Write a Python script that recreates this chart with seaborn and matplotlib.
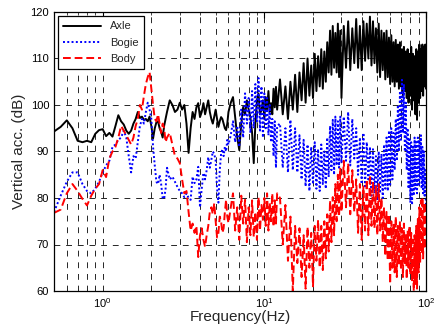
import matplotlib
matplotlib.use("Agg")
import matplotlib.pyplot as plt
import seaborn as sns
import numpy as np
import pandas as pd
from matplotlib.ticker import LogLocator, LogFormatterMathtext, NullFormatter

freq = [
    0.50, 0.55, 0.60, 0.65, 0.70, 0.75, 0.80, 0.85, 0.90, 0.95,
    1.00, 1.05, 1.10, 1.15, 1.20, 1.25, 1.30, 1.35, 1.40, 1.45,
    1.50, 1.55, 1.60, 1.65, 1.70, 1.75, 1.80, 1.85, 1.90, 1.95,
    2.00, 2.05, 2.10, 2.15, 2.20, 2.25, 2.30, 2.35, 2.40, 2.45, 2.50,
    2.6, 2.7, 2.8, 2.9, 3.0, 3.1, 3.2, 3.3, 3.4, 3.5, 3.6, 3.7, 3.8, 3.9,
    4.0, 4.1, 4.2, 4.3, 4.4, 4.5, 4.6, 4.7, 4.8, 4.9, 5.0, 5.1, 5.2, 5.3,
    5.4, 5.5, 5.6, 5.7, 5.8, 5.9, 6.0,
    6.2, 6.4, 6.6, 6.8, 7.0, 7.2, 7.4, 7.6, 7.8, 8.0, 8.2, 8.4, 8.6, 8.8,
    9.0, 9.2, 9.4, 9.6, 9.8, 10.0, 10.2, 10.4, 10.6, 10.8, 11.0, 11.2,
    11.4, 11.6, 11.8, 12.0,
    12.5, 13.0, 13.5, 14.0, 14.5, 15.0, 15.5, 16.0, 16.5, 17.0, 17.5, 18.0,
    18.5, 19.0, 19.5, 20.0, 20.5, 21.0, 21.5, 22.0, 22.5, 23.0, 23.5, 24.0,
    24.5, 25.0, 25.5, 26.0, 26.5, 27.0, 27.5, 28.0, 28.5, 29.0, 29.5, 30.0,
    31, 32, 33, 34, 35, 36, 37, 38, 39, 40, 41, 42, 43, 44, 45, 46, 47, 48,
    49, 50, 51, 52, 53, 54, 55, 56, 57, 58, 59, 60, 61, 62, 63, 64, 65, 66,
    67, 68, 69, 70, 71, 72, 73, 74, 75, 76, 77, 78, 79, 80, 81, 82, 83, 84,
    85, 86, 87, 88, 89, 90, 91, 92, 93, 94, 95, 96, 97, 98, 99, 100,
]

axle = [
    94.3, 95.3, 96.7, 95.0, 92.3, 92.0, 92.3, 92.0, 93.8, 94.6,
    94.8, 93.3, 94.0, 93.2, 95.5, 97.8, 96.5, 95.8, 94.5, 93.8,
    94.5, 96.0, 97.0, 98.5, 97.2, 97.5, 96.8, 97.0, 96.5, 97.5,
    95.5, 92.8, 95.0, 96.3, 96.5, 95.0, 94.2, 93.0, 95.5, 97.0, 98.5,
    101.0, 100.0, 98.5, 99.0, 100.5, 99.0, 100.0, 96.0, 89.7, 95.0, 98.5, 97.0, 99.5, 100.4,
    97.4, 98.5, 100.4, 98.0, 99.5, 101.0, 98.5, 97.0, 96.0, 97.5, 99.0, 97.0, 95.3, 96.5,
    97.4, 97.0, 96.0, 95.0, 94.6, 96.0, 98.5,
    100.5, 101.7, 97.4, 93.0, 90.3, 96.0, 99.6, 98.0, 101.0, 99.0, 97.4, 94.0, 87.5, 96.0,
    101.0, 102.5, 98.0, 99.0, 101.0, 97.0, 101.7, 99.0, 103.0, 98.5, 100.4, 98.0,
    103.5, 99.5, 103.9, 99.0,
    105.5, 98.0, 104.0, 97.0, 105.0, 99.0, 106.5, 98.5, 107.0, 101.0, 109.0, 100.5,
    110.0, 102.0, 108.5, 101.5, 111.0, 103.0, 110.5, 104.0, 112.0, 103.5, 111.5, 105.0,
    113.5, 107.0, 116.0, 106.5, 117.0, 108.0, 115.5, 107.0, 117.5, 106.0, 116.0, 101.5,
    117.0, 108.0, 118.0, 107.5, 116.5, 109.0, 118.5, 108.0, 117.0, 107.5, 118.0, 109.5,
    117.5, 110.0, 119.0, 108.5, 118.0, 109.0, 116.5, 107.0, 117.5, 106.0, 116.0, 107.5,
    115.5, 105.5, 116.0, 106.0, 114.5, 104.5, 115.0, 105.0, 113.5, 104.0, 114.0, 105.0,
    113.0, 103.5, 113.5, 104.0, 112.0, 102.0, 112.5, 103.0, 111.5, 101.5, 112.0, 100.5,
    111.0, 102.0, 112.5, 99.0, 111.0, 101.0, 110.5, 98.0, 112.0, 96.8, 111.5, 100.5,
    113.0, 101.5, 112.0, 103.0, 113.0, 102.0, 112.5, 104.0, 113.0, 103.5,
]

bogie = [
    77.0, 80.5, 83.5, 85.5, 85.5, 83.0, 81.5, 81.0, 82.0, 83.5,
    85.5, 87.0, 88.0, 91.0, 91.5, 92.5, 93.0, 94.5, 93.0, 89.0,
    85.5, 89.0, 88.5, 92.0, 95.5, 97.0, 96.0, 98.5, 100.5, 99.0,
    97.0, 91.0, 87.0, 83.5, 83.0, 85.0, 83.0, 80.0, 79.8, 82.0, 86.5,
    84.0, 84.6, 83.5, 82.4, 81.5, 81.0, 80.2, 81.0, 80.0, 79.6, 84.6, 83.2, 84.0, 86.7,
    78.0, 82.0, 85.4, 84.0, 86.0, 88.8, 86.5, 88.2, 90.0, 89.5, 88.0, 82.0, 79.0, 86.0,
    89.5, 90.5, 89.0, 91.0, 90.0, 92.5, 91.5,
    93.5, 96.5, 92.0, 95.5, 91.0, 99.0, 93.0, 102.5, 96.0, 101.5, 94.0, 103.0, 95.0, 104.5,
    96.5, 105.8, 94.5, 104.0, 93.0, 102.5, 95.0, 101.5, 93.5, 100.0, 92.0, 97.0,
    89.0, 96.5, 86.5, 95.5,
    96.0, 86.5, 95.0, 85.5, 96.8, 86.0, 95.0, 85.5, 93.5, 84.0, 92.5, 82.5,
    91.5, 81.5, 91.0, 83.0, 92.0, 82.0, 90.5, 81.5, 91.5, 83.0, 90.0, 82.0,
    93.0, 84.5, 95.5, 86.0, 96.8, 85.0, 97.5, 87.0, 96.5, 86.5, 97.5, 87.5,
    97.5, 88.0, 98.5, 87.0, 97.0, 88.5, 95.0, 85.0, 93.0, 83.0, 94.0, 82.5,
    92.0, 84.0, 91.0, 80.5, 90.5, 81.0, 89.0, 79.5, 90.0, 81.0, 89.5, 80.0,
    91.5, 82.0, 93.0, 81.5, 94.5, 82.5, 95.0, 84.0, 94.0, 86.0, 97.0, 88.0,
    100.0, 90.0, 103.0, 92.5, 105.4, 94.0, 104.5, 90.0, 100.5, 86.0, 95.0, 82.0,
    93.0, 79.0, 92.0, 78.5, 91.0, 80.5, 93.0, 82.0, 92.0, 81.0, 93.0, 82.5,
    92.5, 84.0, 93.5, 82.0, 91.0, 81.0, 90.0, 80.5, 86.0, 78.0,
]

body = [
    76.8, 77.5, 81.0, 83.0, 81.5, 79.8, 78.4, 80.5, 82.0, 83.0,
    86.0, 84.5, 88.5, 90.0, 91.0, 93.0, 95.5, 94.5, 93.5, 92.5,
    91.5, 93.0, 95.5, 97.0, 100.0, 99.0, 102.0, 104.5, 106.0, 107.1,
    103.5, 100.0, 97.0, 96.5, 98.0, 96.0, 94.0, 96.0, 95.0, 92.0, 93.0,
    94.0, 91.5, 89.0, 88.5, 87.5, 84.0, 81.0, 81.5, 77.0, 73.0, 74.5, 72.5, 74.0, 67.3,
    72.0, 73.5, 71.0, 69.5, 72.0, 74.0, 77.0, 78.0, 76.5, 78.9, 75.0, 71.5, 72.5, 76.0,
    75.0, 72.5, 73.5, 77.0, 79.6, 76.0, 74.6,
    78.0, 81.0, 73.0, 78.0, 71.0, 80.5, 74.5, 79.6, 70.5, 78.0, 72.0, 79.5, 71.6, 77.0,
    71.0, 80.2, 73.0, 78.5, 75.3, 80.0, 74.0, 81.0, 73.0, 79.0, 75.0, 81.0,
    73.8, 79.5, 74.5, 81.0,
    80.0, 70.0, 78.5, 66.5, 76.0, 60.0, 74.0, 66.0, 73.5, 63.0, 72.0, 60.5,
    73.8, 65.0, 72.5, 61.0, 74.0, 66.5, 75.3, 65.0, 74.0, 64.5, 75.0, 67.0,
    76.5, 68.5, 79.5, 70.5, 80.2, 72.0, 83.0, 75.0, 85.0, 76.0, 86.5, 77.0,
    88.0, 78.0, 87.5, 76.5, 86.0, 77.0, 84.0, 72.5, 83.0, 71.0, 82.5, 73.0,
    84.0, 72.0, 85.0, 74.0, 83.5, 73.5, 82.5, 72.0, 83.0, 73.0, 80.0, 70.5,
    78.0, 67.5, 77.0, 66.5, 76.5, 61.5, 75.0, 65.0, 74.5, 64.0, 76.0, 63.0,
    74.0, 65.5, 75.0, 64.5, 73.5, 63.0, 74.5, 66.0, 72.0, 62.5, 73.0, 65.0,
    74.0, 63.5, 72.5, 62.0, 71.0, 60.0, 72.0, 61.5, 74.0, 60.5, 75.5, 64.0,
    78.0, 66.0, 79.5, 68.0, 80.2, 67.0, 79.0, 69.0, 78.5, 77.0,
]

series_names = ["Axle", "Bogie", "Body"]
y_ticks = [60, 70, 80, 90, 100, 110, 120]

sns.set_style("white")
plt.rcParams["font.family"] = ["Liberation Sans", "DejaVu Sans"]
plt.rcParams["mathtext.fontset"] = "custom"
plt.rcParams["mathtext.rm"] = "Liberation Sans"
plt.rcParams["mathtext.it"] = "Liberation Sans"
plt.rcParams["mathtext.default"] = "regular"

fig = plt.figure(figsize=(4.36, 3.31), dpi=100)
ax = fig.add_axes([54 / 436, 1 - 291 / 331, 372 / 436, 279 / 331])

df = pd.DataFrame({"freq": freq, "Axle": axle, "Bogie": bogie, "Body": body})

styles = {
    "Axle": dict(color="black", linestyle="-", linewidth=1.4),
    "Bogie": dict(color="#0000ff", linestyle=(0, (1, 1.2)), linewidth=1.4),
    "Body": dict(color="#ff0000", linestyle=(0, (4, 2)), linewidth=1.4),
}
for name in series_names:
    sns.lineplot(data=df, x="freq", y=name, ax=ax, label=name,
                 estimator=None, sort=False, **styles[name])

ax.set_xscale("log")
ax.set_xlim(0.5, 100)
ax.set_ylim(60, 120)
ax.set_yticks(y_ticks)
ax.xaxis.set_major_locator(LogLocator(base=10))
ax.xaxis.set_major_formatter(LogFormatterMathtext())
ax.xaxis.set_minor_locator(LogLocator(base=10, subs=np.arange(2, 10)))
ax.xaxis.set_minor_formatter(NullFormatter())

grid_kw = dict(color="black", linestyle=(0, (6, 6)), linewidth=0.7, alpha=0.85)
ax.grid(True, which="major", axis="both", **grid_kw)
ax.grid(True, which="minor", axis="x", **grid_kw)
ax.set_axisbelow(True)

ax.tick_params(axis="both", which="major", direction="in", length=4, width=0.8,
               top=True, right=True, labelsize=8, colors="black")
ax.tick_params(axis="x", which="minor", direction="in", length=2, width=0.6,
               top=True, bottom=True)
for sp in ax.spines.values():
    sp.set_color("black")
    sp.set_linewidth(0.9)

ax.set_xlabel("Frequency(Hz)", fontsize=11, labelpad=0)
ax.set_ylabel("Vertical acc. (dB)", fontsize=11, labelpad=3)

leg = ax.legend(loc="upper left", fontsize=8, frameon=True, fancybox=False,
                framealpha=1, edgecolor="black", borderpad=0.5,
                handlelength=3.4, handletextpad=0.8, labelspacing=0.55,
                borderaxespad=0.35)
leg.get_frame().set_linewidth(0.9)

fig.savefig("out.png", dpi=100)
